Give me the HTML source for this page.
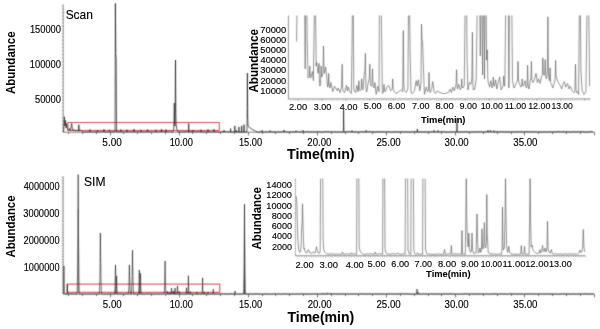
<!DOCTYPE html>
<html lang="en"><head><meta charset="utf-8"><title>Chromatogram Scan vs SIM</title>
<style>
html,body{margin:0;padding:0;background:#fff;}
body{width:600px;height:329px;overflow:hidden;}
svg{display:block;font-family:"Liberation Sans", sans-serif;}
</style></head>
<body>
<svg width="600" height="329" viewBox="0 0 600 329">
<rect x="0" y="0" width="600" height="329" fill="#ffffff"/>
<defs><filter id="soft" x="0" y="0" width="600" height="329" filterUnits="userSpaceOnUse"><feConvolveMatrix order="3" kernelMatrix="0.03 0.09 0.03 0.09 0.52 0.09 0.03 0.09 0.03" divisor="1" edgeMode="duplicate" preserveAlpha="false"/></filter></defs>
<g filter="url(#soft)">
<line x1="63.2" y1="4.5" x2="63.2" y2="132.2" stroke="#8c8c8c" stroke-width="1" />
<line x1="61.9" y1="131.5" x2="63.2" y2="131.5" stroke="#777" stroke-width="0.6" />
<line x1="61.9" y1="128.0" x2="63.2" y2="128.0" stroke="#777" stroke-width="0.6" />
<line x1="61.9" y1="124.5" x2="63.2" y2="124.5" stroke="#777" stroke-width="0.6" />
<line x1="61.9" y1="121.0" x2="63.2" y2="121.0" stroke="#777" stroke-width="0.6" />
<line x1="61.9" y1="117.5" x2="63.2" y2="117.5" stroke="#777" stroke-width="0.6" />
<line x1="61.9" y1="114.0" x2="63.2" y2="114.0" stroke="#777" stroke-width="0.6" />
<line x1="61.9" y1="110.5" x2="63.2" y2="110.5" stroke="#777" stroke-width="0.6" />
<line x1="61.9" y1="107.0" x2="63.2" y2="107.0" stroke="#777" stroke-width="0.6" />
<line x1="61.9" y1="103.5" x2="63.2" y2="103.5" stroke="#777" stroke-width="0.6" />
<line x1="61.9" y1="100.0" x2="63.2" y2="100.0" stroke="#777" stroke-width="0.6" />
<line x1="61.9" y1="96.5" x2="63.2" y2="96.5" stroke="#777" stroke-width="0.6" />
<line x1="61.9" y1="93.0" x2="63.2" y2="93.0" stroke="#777" stroke-width="0.6" />
<line x1="61.9" y1="89.5" x2="63.2" y2="89.5" stroke="#777" stroke-width="0.6" />
<line x1="61.9" y1="86.0" x2="63.2" y2="86.0" stroke="#777" stroke-width="0.6" />
<line x1="61.9" y1="82.5" x2="63.2" y2="82.5" stroke="#777" stroke-width="0.6" />
<line x1="61.9" y1="79.0" x2="63.2" y2="79.0" stroke="#777" stroke-width="0.6" />
<line x1="61.9" y1="75.5" x2="63.2" y2="75.5" stroke="#777" stroke-width="0.6" />
<line x1="61.9" y1="72.0" x2="63.2" y2="72.0" stroke="#777" stroke-width="0.6" />
<line x1="61.9" y1="68.5" x2="63.2" y2="68.5" stroke="#777" stroke-width="0.6" />
<line x1="61.9" y1="65.0" x2="63.2" y2="65.0" stroke="#777" stroke-width="0.6" />
<line x1="61.9" y1="61.5" x2="63.2" y2="61.5" stroke="#777" stroke-width="0.6" />
<line x1="61.9" y1="58.0" x2="63.2" y2="58.0" stroke="#777" stroke-width="0.6" />
<line x1="61.9" y1="54.5" x2="63.2" y2="54.5" stroke="#777" stroke-width="0.6" />
<line x1="61.9" y1="51.0" x2="63.2" y2="51.0" stroke="#777" stroke-width="0.6" />
<line x1="61.9" y1="47.5" x2="63.2" y2="47.5" stroke="#777" stroke-width="0.6" />
<line x1="61.9" y1="44.0" x2="63.2" y2="44.0" stroke="#777" stroke-width="0.6" />
<line x1="61.9" y1="40.5" x2="63.2" y2="40.5" stroke="#777" stroke-width="0.6" />
<line x1="61.9" y1="37.0" x2="63.2" y2="37.0" stroke="#777" stroke-width="0.6" />
<line x1="61.9" y1="33.5" x2="63.2" y2="33.5" stroke="#777" stroke-width="0.6" />
<line x1="61.9" y1="30.0" x2="63.2" y2="30.0" stroke="#777" stroke-width="0.6" />
<line x1="61.9" y1="26.5" x2="63.2" y2="26.5" stroke="#777" stroke-width="0.6" />
<line x1="61.9" y1="23.0" x2="63.2" y2="23.0" stroke="#777" stroke-width="0.6" />
<line x1="61.9" y1="19.5" x2="63.2" y2="19.5" stroke="#777" stroke-width="0.6" />
<line x1="61.9" y1="16.0" x2="63.2" y2="16.0" stroke="#777" stroke-width="0.6" />
<line x1="61.9" y1="12.5" x2="63.2" y2="12.5" stroke="#777" stroke-width="0.6" />
<line x1="61.9" y1="9.0" x2="63.2" y2="9.0" stroke="#777" stroke-width="0.6" />
<line x1="61.9" y1="5.5" x2="63.2" y2="5.5" stroke="#777" stroke-width="0.6" />
<line x1="63.2" y1="132.2" x2="594.4" y2="132.2" stroke="#5a5a5a" stroke-width="0.8" />
<line x1="68.5" y1="132.2" x2="68.5" y2="134.1" stroke="#555" stroke-width="0.8" />
<line x1="82.5" y1="132.2" x2="82.5" y2="134.1" stroke="#555" stroke-width="0.8" />
<line x1="96.5" y1="132.2" x2="96.5" y2="134.1" stroke="#555" stroke-width="0.8" />
<line x1="110.5" y1="132.2" x2="110.5" y2="135.39999999999998" stroke="#555" stroke-width="0.8" />
<line x1="123.5" y1="132.2" x2="123.5" y2="134.1" stroke="#555" stroke-width="0.8" />
<line x1="137.5" y1="132.2" x2="137.5" y2="134.1" stroke="#555" stroke-width="0.8" />
<line x1="151.5" y1="132.2" x2="151.5" y2="134.1" stroke="#555" stroke-width="0.8" />
<line x1="165.5" y1="132.2" x2="165.5" y2="134.1" stroke="#555" stroke-width="0.8" />
<line x1="179.5" y1="132.2" x2="179.5" y2="135.39999999999998" stroke="#555" stroke-width="0.8" />
<line x1="192.5" y1="132.2" x2="192.5" y2="134.1" stroke="#555" stroke-width="0.8" />
<line x1="206.5" y1="132.2" x2="206.5" y2="134.1" stroke="#555" stroke-width="0.8" />
<line x1="220.5" y1="132.2" x2="220.5" y2="134.1" stroke="#555" stroke-width="0.8" />
<line x1="234.5" y1="132.2" x2="234.5" y2="134.1" stroke="#555" stroke-width="0.8" />
<line x1="248.5" y1="132.2" x2="248.5" y2="135.39999999999998" stroke="#555" stroke-width="0.8" />
<line x1="262.5" y1="132.2" x2="262.5" y2="134.1" stroke="#555" stroke-width="0.8" />
<line x1="275.5" y1="132.2" x2="275.5" y2="134.1" stroke="#555" stroke-width="0.8" />
<line x1="289.5" y1="132.2" x2="289.5" y2="134.1" stroke="#555" stroke-width="0.8" />
<line x1="303.5" y1="132.2" x2="303.5" y2="134.1" stroke="#555" stroke-width="0.8" />
<line x1="317.5" y1="132.2" x2="317.5" y2="135.39999999999998" stroke="#555" stroke-width="0.8" />
<line x1="331.5" y1="132.2" x2="331.5" y2="134.1" stroke="#555" stroke-width="0.8" />
<line x1="345.5" y1="132.2" x2="345.5" y2="134.1" stroke="#555" stroke-width="0.8" />
<line x1="358.5" y1="132.2" x2="358.5" y2="134.1" stroke="#555" stroke-width="0.8" />
<line x1="372.5" y1="132.2" x2="372.5" y2="134.1" stroke="#555" stroke-width="0.8" />
<line x1="386.5" y1="132.2" x2="386.5" y2="135.39999999999998" stroke="#555" stroke-width="0.8" />
<line x1="400.5" y1="132.2" x2="400.5" y2="134.1" stroke="#555" stroke-width="0.8" />
<line x1="414.5" y1="132.2" x2="414.5" y2="134.1" stroke="#555" stroke-width="0.8" />
<line x1="428.5" y1="132.2" x2="428.5" y2="134.1" stroke="#555" stroke-width="0.8" />
<line x1="441.5" y1="132.2" x2="441.5" y2="134.1" stroke="#555" stroke-width="0.8" />
<line x1="455.5" y1="132.2" x2="455.5" y2="135.39999999999998" stroke="#555" stroke-width="0.8" />
<line x1="469.5" y1="132.2" x2="469.5" y2="134.1" stroke="#555" stroke-width="0.8" />
<line x1="483.5" y1="132.2" x2="483.5" y2="134.1" stroke="#555" stroke-width="0.8" />
<line x1="497.5" y1="132.2" x2="497.5" y2="134.1" stroke="#555" stroke-width="0.8" />
<line x1="511.5" y1="132.2" x2="511.5" y2="134.1" stroke="#555" stroke-width="0.8" />
<line x1="524.5" y1="132.2" x2="524.5" y2="135.39999999999998" stroke="#555" stroke-width="0.8" />
<line x1="538.5" y1="132.2" x2="538.5" y2="134.1" stroke="#555" stroke-width="0.8" />
<line x1="552.5" y1="132.2" x2="552.5" y2="134.1" stroke="#555" stroke-width="0.8" />
<line x1="566.5" y1="132.2" x2="566.5" y2="134.1" stroke="#555" stroke-width="0.8" />
<line x1="580.5" y1="132.2" x2="580.5" y2="134.1" stroke="#555" stroke-width="0.8" />
<line x1="594.5" y1="132.2" x2="594.5" y2="135.39999999999998" stroke="#555" stroke-width="0.8" />
<rect x="68" y="122.5" width="151.3" height="7.9" fill="none" stroke="#d4454f" stroke-width="0.95"/>
<polyline points="63.6,132.0 64.1,124.0 64.4,116.7 64.9,126.0 65.5,120.5 66.1,128.0 66.7,123.5 67.4,129.0 68.4,130.5 69.5,128.5 70.5,130.8 71.2,126.0 71.7,123.4 72.2,128.0 73.0,130.5 74.0,129.5 75.0,131.0 76.5,130.4 78.3,131.0 78.8,124.7 79.3,131.0 80.5,130.2 82.0,131.2 83.0,131.9 84.2,131.8 85.4,131.9 86.6,131.9 87.8,131.7 89.0,131.9 89.5,132.0 90.0,129.6 90.5,132.0 91.4,131.9 92.6,131.7 93.8,131.9 95.0,131.9 96.2,131.9 97.0,132.0 97.5,130.0 98.0,132.0 98.6,131.7 99.8,131.8 101.0,131.9 102.2,131.5 103.4,131.5 103.5,132.0 104.0,129.4 104.5,132.0 104.6,131.7 105.8,131.9 107.0,131.9 108.2,132.0 109.0,132.0 109.5,129.8 110.0,132.0 110.6,131.8 111.8,131.9 113.0,131.9 114.2,131.8 115.0,132.0 115.3,57.0 115.4,3.3 115.8,57.0 116.1,57.3 116.6,132.0 117.8,131.6 119.0,131.8 120.2,131.8 120.5,132.0 121.0,129.5 121.5,132.0 122.6,132.0 123.8,131.8 125.0,131.9 126.2,131.9 126.5,132.0 127.0,129.7 127.5,132.0 128.6,131.8 129.8,131.6 131.0,131.8 132.2,131.9 133.4,131.9 133.5,132.0 134.0,129.2 134.5,132.0 134.6,131.6 135.8,132.0 137.0,131.6 138.2,131.4 139.4,131.9 140.5,132.0 141.0,129.9 141.5,132.0 141.8,131.8 143.0,131.9 144.2,132.0 145.4,131.6 146.6,131.8 147.0,132.0 147.5,129.5 148.0,132.0 149.0,131.7 150.2,131.6 151.4,131.9 152.6,132.0 153.8,131.6 155.0,131.8 155.5,132.0 156.0,129.8 156.5,132.0 157.4,131.9 158.6,131.6 159.8,131.7 161.0,131.8 161.0,132.0 161.5,129.2 162.0,132.0 162.2,131.6 163.4,131.4 164.6,131.6 165.5,132.0 166.0,129.6 166.5,132.0 167.0,131.6 168.2,131.8 169.4,131.4 170.6,131.2 171.8,131.9 172.8,132.0 173.6,129.5 174.0,122.0 174.3,103.0 174.6,122.0 174.9,126.0 175.2,112.0 175.5,60.0 175.8,112.0 176.2,125.0 176.9,129.5 178.0,132.0 179.0,131.9 180.2,131.9 181.4,131.5 182.6,131.8 183.8,131.8 185.0,131.8 186.2,131.5 187.4,131.6 188.6,132.0 188.7,123.4 188.8,132.0 189.8,131.8 191.0,131.4 192.2,131.8 192.5,132.0 193.0,130.0 193.5,132.0 194.6,131.5 195.8,131.9 197.0,131.7 198.2,131.6 199.4,131.5 200.5,132.0 201.0,129.8 201.5,132.0 201.8,132.0 203.0,131.9 204.2,131.8 205.4,132.0 206.6,131.7 207.5,132.0 208.0,129.5 208.5,132.0 209.0,131.9 210.2,131.7 211.4,132.0 212.6,131.7 213.5,132.0 214.0,129.3 214.5,132.0 215.0,131.6 216.2,131.9 217.4,131.6 218.6,132.0 219.8,132.0 221.0,131.9 222.2,131.6 223.4,131.7 223.5,132.0 224.0,130.2 224.5,132.0 224.6,131.6 225.8,131.6 227.0,131.8 228.2,131.8 229.4,131.7 230.5,132.0 230.6,128.6 230.7,132.0 231.8,131.9 234.7,132.0 234.8,125.9 234.9,132.0 236.2,132.0 236.3,130.2 236.4,132.0 238.8,132.0 238.9,127.0 239.0,132.0 241.5,132.0 241.6,125.9 241.7,132.0 243.8,132.0 244.0,124.6 244.2,132.0 246.9,132.0 247.2,118.0 247.4,73.0 247.7,118.0 248.1,126.3 249.5,127.4 251.0,128.6 253.0,130.0 255.5,131.0 257.0,132.0 258.5,132.0 260.0,131.9 261.5,132.0 262.0,130.3 262.5,132.0 263.0,131.9 264.5,131.9 266.0,132.0 267.5,131.8 269.0,131.9 269.5,132.0 270.0,130.5 270.5,132.0 272.0,131.9 273.5,131.9 275.0,131.9 276.5,132.0 278.0,131.8 279.5,131.9 281.0,131.9 282.5,131.6 283.5,132.0 284.0,130.0 284.5,132.0 285.5,131.8 287.0,131.9 288.5,131.9 290.0,131.9 291.5,131.9 293.0,131.9 294.5,131.9 295.5,132.0 296.0,130.6 296.5,132.0 297.5,131.5 299.0,131.9 300.5,131.9 302.0,132.0 302.5,132.0 303.0,130.3 303.5,132.0 305.0,132.0 306.5,131.4 308.0,131.9 309.5,131.8 311.0,131.7 312.5,132.0 314.0,131.8 315.5,131.8 317.0,131.7 318.5,131.6 320.0,131.9 321.5,131.9 323.0,131.9 324.5,131.8 326.0,131.4 327.5,131.8 329.0,131.7 330.5,131.8 332.0,131.7 333.5,132.0 335.0,131.7 336.5,132.0 338.0,132.0 339.5,131.8 341.0,132.0 342.5,132.0 343.3,132.0 343.4,130.7 343.5,126.5 343.5,118.8 343.6,110.0 343.7,118.8 343.8,126.5 343.8,130.7 343.9,132.0 344.0,131.7 345.5,131.8 347.0,131.9 348.5,131.4 350.0,131.7 351.5,132.0 352.0,130.5 352.5,132.0 353.0,131.9 354.5,132.0 356.0,131.8 357.5,132.0 359.0,131.9 360.5,131.7 362.0,131.7 363.5,131.9 365.0,131.8 365.5,132.0 366.0,130.3 366.5,132.0 368.0,131.7 369.5,131.7 371.0,131.8 372.5,131.7 374.0,131.8 375.5,132.0 377.0,131.7 378.5,131.8 380.0,131.7 381.5,131.8 383.0,131.7 384.5,131.8 386.0,132.0 387.5,131.6 389.0,131.7 390.5,132.0 392.0,131.9 393.5,131.9 395.0,131.9 396.5,131.7 398.0,131.8 399.5,131.8 401.0,131.7 402.5,131.7 404.0,132.0 405.5,131.8 407.0,131.8 408.5,132.0 410.0,132.0 411.5,131.7 413.0,131.9 414.5,131.5 416.0,131.9 417.1,132.0 417.4,129.0 417.7,132.0 419.0,131.8 420.5,131.9 422.0,131.9 423.5,132.0 425.0,131.8 426.5,132.0 428.0,131.7 429.5,132.0 431.0,131.8 432.5,131.7 433.5,132.0 434.0,130.3 434.5,132.0 435.5,131.9 437.0,131.8 437.5,132.0 438.0,130.5 438.5,132.0 440.0,131.8 441.5,131.6 443.0,131.8 444.5,131.7 446.0,132.0 447.5,132.0 449.0,132.0 450.5,131.9 452.0,131.9 453.5,131.6 455.0,132.0 456.5,131.9 456.7,132.0 456.8,131.2 456.9,128.5 456.9,123.6 457.0,118.0 457.1,123.6 457.1,128.5 457.2,131.2 457.3,132.0 458.0,131.8 459.5,132.0 461.0,131.7 462.5,131.9 464.0,131.8 465.5,131.6 467.0,131.9 468.5,131.8 470.0,131.8 471.5,132.0 473.0,131.8 474.5,132.0 476.0,131.7 477.5,131.7 479.0,131.9 480.5,131.8 482.0,131.9 483.5,131.8 485.0,131.8 486.5,131.7 487.4,132.0 488.0,130.3 488.6,132.0 489.5,131.7 489.9,132.0 490.5,130.2 491.1,132.0 492.5,131.5 493.4,132.0 494.0,130.5 494.6,132.0 495.5,131.9 497.0,131.6 498.5,131.8 500.0,131.9 501.5,131.5 503.0,131.8 504.5,131.9 506.0,131.9 507.5,131.8 509.0,131.8 510.5,131.9 512.0,131.9 513.5,131.7 515.0,131.9 516.5,131.9 518.0,131.5 519.5,131.8 521.0,131.7 522.5,131.9 524.0,131.9 525.5,131.6 527.0,131.6 528.5,131.9 530.0,131.5 531.5,131.8 533.0,131.8 534.5,131.6 536.0,132.0 537.5,131.9 539.0,131.8 540.5,131.8 542.0,132.0 543.5,131.9 545.0,131.8 546.5,132.0 548.0,132.0 549.5,131.8 551.0,131.9 552.5,131.8 554.0,132.0 555.5,131.8 557.0,131.8 558.5,131.4 560.0,131.7 561.5,131.9 563.0,131.4 564.5,131.9 566.0,131.9 567.5,131.6 569.0,131.9 570.5,132.0 572.0,131.9 573.5,131.6 575.0,131.8 576.5,131.9 578.0,131.8 579.5,131.7 581.0,131.6 582.5,131.7 584.0,131.9 585.5,131.9 587.0,132.0 588.5,131.9 590.0,131.8 591.5,131.5 593.0,131.8" fill="none" stroke="#1a1a1a" stroke-width="0.72" stroke-linejoin="round" />
<line x1="288.4" y1="15.5" x2="288.4" y2="98.9" stroke="#888" stroke-width="0.9" />
<line x1="288.0" y1="98.9" x2="590.5" y2="98.9" stroke="#8a8a8a" stroke-width="0.9" />
<line x1="290.4" y1="99.80000000000001" x2="590.5" y2="99.80000000000001" stroke="#999" stroke-width="1.2" stroke-dasharray="0.7 1.69"/>
<line x1="298.0" y1="98.9" x2="298.0" y2="100.5" stroke="#777" stroke-width="0.7" />
<line x1="321.9" y1="98.9" x2="321.9" y2="100.5" stroke="#777" stroke-width="0.7" />
<line x1="345.8" y1="98.9" x2="345.8" y2="100.5" stroke="#777" stroke-width="0.7" />
<line x1="369.7" y1="98.9" x2="369.7" y2="100.5" stroke="#777" stroke-width="0.7" />
<line x1="393.6" y1="98.9" x2="393.6" y2="100.5" stroke="#777" stroke-width="0.7" />
<line x1="417.5" y1="98.9" x2="417.5" y2="100.5" stroke="#777" stroke-width="0.7" />
<line x1="441.4" y1="98.9" x2="441.4" y2="100.5" stroke="#777" stroke-width="0.7" />
<line x1="465.29999999999995" y1="98.9" x2="465.29999999999995" y2="100.5" stroke="#777" stroke-width="0.7" />
<line x1="489.2" y1="98.9" x2="489.2" y2="100.5" stroke="#777" stroke-width="0.7" />
<line x1="513.1" y1="98.9" x2="513.1" y2="100.5" stroke="#777" stroke-width="0.7" />
<line x1="537.0" y1="98.9" x2="537.0" y2="100.5" stroke="#777" stroke-width="0.7" />
<line x1="560.9" y1="98.9" x2="560.9" y2="100.5" stroke="#777" stroke-width="0.7" />
<line x1="584.8" y1="98.9" x2="584.8" y2="100.5" stroke="#777" stroke-width="0.7" />
<clipPath id="c1"><rect x="288" y="15.5" width="304" height="90"/></clipPath>
<g clip-path="url(#c1)">
<polyline points="296.6,41.5 297.3,-20.0 304.6,-20.0 305.2,68.8 305.6,-20.0 306.6,-20.0 307.2,40.0 308.0,78.0 309.3,76.6 309.8,66.0 310.3,76.6 310.7,78.0 312.5,71.5 313.4,80.7 314.8,-20.0 315.2,-20.0 316.2,66.0 316.6,62.3 318.0,73.3 318.5,72.1 319.0,63.3 319.5,83.5 319.9,86.2 320.6,83.8 321.1,66.0 321.7,77.0 323.0,73.3 323.5,46.0 324.0,70.0 324.4,73.3 325.7,67.0 327.6,87.1 328.2,85.4 328.7,73.3 329.2,86.2 330.0,88.0 330.9,82.5 332.7,91.7 334.5,86.2 337.3,90.8 338.2,88.0 340.0,92.6 341.5,87.1 342.2,64.2 342.7,87.6 343.0,90.8 344.6,92.6 346.5,85.3 347.4,90.8 348.3,87.1 349.6,91.7 351.4,93.5 352.8,-20.0 353.1,-20.0 353.8,89.9 355.6,92.6 356.9,85.3 358.0,91.7 358.4,90.4 358.9,80.7 359.4,89.6 360.2,90.8 361.2,89.4 361.7,78.9 362.2,88.6 363.0,89.9 364.3,73.3 364.9,70.9 365.4,53.4 365.9,87.4 366.7,92.0 368.5,80.7 369.3,78.7 369.8,64.2 370.3,83.6 371.2,86.2 372.0,84.1 372.5,68.8 373.0,85.7 374.0,88.0 374.9,82.5 376.2,94.4 377.7,86.2 379.0,91.7 379.6,-20.0 381.0,-20.0 381.6,35.0 382.3,93.5 383.5,92.4 384.0,84.4 384.5,90.8 385.5,91.7 386.8,87.1 388.7,85.3 390.5,90.8 392.2,89.4 392.7,78.9 393.2,89.4 393.8,90.8 396.0,93.5 398.8,91.7 400.6,89.9 402.4,91.7 402.8,84.4 403.3,30.5 403.8,83.6 404.4,90.8 406.1,92.6 407.9,89.0 408.7,-20.0 409.3,-20.0 410.1,50.7 411.0,92.6 412.5,93.5 414.4,90.8 416.2,80.7 417.3,86.2 418.4,79.8 419.9,90.8 421.0,82.8 421.5,24.0 422.0,39.4 422.6,41.5 423.3,64.0 424.4,94.4 426.3,87.1 427.6,91.7 428.5,89.4 429.0,72.4 429.5,90.2 430.3,92.6 431.8,88.0 432.7,81.6 434.2,91.7 435.5,93.5 437.3,90.8 440.0,92.6 442.8,93.5 445.6,93.5 448.3,92.6 450.1,89.0 451.4,92.6 452.9,87.1 454.4,90.8 455.6,86.2 456.1,84.2 456.6,69.7 457.1,86.7 457.5,89.0 458.8,84.4 460.2,89.9 461.2,88.6 461.7,78.9 462.2,86.9 463.0,88.0 464.3,85.3 465.3,-20.0 466.4,-20.0 467.1,60.0 467.9,89.9 469.4,82.5 470.9,84.4 471.9,78.1 472.4,32.3 472.9,83.0 473.2,89.9 474.9,89.0 476.2,78.9 477.6,-20.0 479.5,-20.0 480.3,56.0 481.2,-20.0 481.8,-20.0 482.6,75.0 483.4,-20.0 483.9,-20.0 484.5,78.9 485.3,-20.0 486.0,-20.0 486.6,60.0 487.3,49.8 487.8,78.6 488.3,82.5 489.6,87.1 490.9,80.7 492.0,88.0 492.8,86.7 493.3,77.0 493.8,85.1 494.5,86.2 495.6,79.8 496.9,89.0 498.2,82.5 499.7,77.0 501.1,89.9 502.4,87.1 503.2,85.8 503.7,76.1 504.2,85.0 504.8,86.2 506.0,-20.0 508.0,-20.0 508.9,88.0 509.7,-20.0 511.5,-20.0 512.5,80.7 514.0,88.0 515.3,85.3 516.6,82.5 517.5,80.0 518.0,61.4 518.5,80.0 519.1,82.5 520.8,87.1 521.7,86.1 522.2,78.9 522.7,85.3 523.5,86.2 525.0,80.7 526.3,88.0 527.1,85.3 527.6,65.1 528.1,86.1 529.0,89.0 530.3,80.7 530.9,78.4 531.4,61.4 531.9,80.0 533.1,82.5 534.5,78.9 536.0,73.3 537.3,82.5 538.6,78.9 540.0,83.4 541.5,77.0 542.3,74.7 542.8,57.8 543.3,73.1 544.1,75.2 544.7,73.3 545.2,59.6 545.7,76.6 546.5,78.9 547.4,71.4 547.9,16.8 548.4,73.0 549.2,80.7 549.6,79.2 550.1,67.8 550.6,82.4 551.4,84.4 552.9,88.0 554.4,82.5 555.1,79.9 555.6,60.5 556.1,76.7 556.9,78.9 558.4,82.5 560.2,85.3 561.7,89.0 563.0,84.4 564.4,81.6 565.7,87.1 567.6,83.4 569.0,89.0 570.3,86.2 572.2,90.8 573.6,92.6 574.9,91.7 575.5,64.2 576.0,89.2 576.4,92.6 577.7,91.7 578.6,94.4 579.6,-20.0 580.2,-20.0 580.9,70.0 582.2,90.8 584.1,94.4 585.9,91.7 587.4,-20.0 588.4,-20.0 589.6,86.2" fill="none" stroke="#606060" stroke-width="0.68" stroke-linejoin="round" />
</g>
<line x1="63.1" y1="176" x2="63.1" y2="294.2" stroke="#8c8c8c" stroke-width="1" />
<line x1="61.9" y1="292.28" x2="63.2" y2="292.28" stroke="#777" stroke-width="0.6" />
<line x1="61.9" y1="289.55999999999995" x2="63.2" y2="289.55999999999995" stroke="#777" stroke-width="0.6" />
<line x1="61.9" y1="286.8399999999999" x2="63.2" y2="286.8399999999999" stroke="#777" stroke-width="0.6" />
<line x1="61.9" y1="284.1199999999999" x2="63.2" y2="284.1199999999999" stroke="#777" stroke-width="0.6" />
<line x1="61.9" y1="281.39999999999986" x2="63.2" y2="281.39999999999986" stroke="#777" stroke-width="0.6" />
<line x1="61.9" y1="278.67999999999984" x2="63.2" y2="278.67999999999984" stroke="#777" stroke-width="0.6" />
<line x1="61.9" y1="275.9599999999998" x2="63.2" y2="275.9599999999998" stroke="#777" stroke-width="0.6" />
<line x1="61.9" y1="273.2399999999998" x2="63.2" y2="273.2399999999998" stroke="#777" stroke-width="0.6" />
<line x1="61.9" y1="270.51999999999975" x2="63.2" y2="270.51999999999975" stroke="#777" stroke-width="0.6" />
<line x1="61.9" y1="267.7999999999997" x2="63.2" y2="267.7999999999997" stroke="#777" stroke-width="0.6" />
<line x1="61.9" y1="265.0799999999997" x2="63.2" y2="265.0799999999997" stroke="#777" stroke-width="0.6" />
<line x1="61.9" y1="262.3599999999997" x2="63.2" y2="262.3599999999997" stroke="#777" stroke-width="0.6" />
<line x1="61.9" y1="259.63999999999965" x2="63.2" y2="259.63999999999965" stroke="#777" stroke-width="0.6" />
<line x1="61.9" y1="256.9199999999996" x2="63.2" y2="256.9199999999996" stroke="#777" stroke-width="0.6" />
<line x1="61.9" y1="254.19999999999962" x2="63.2" y2="254.19999999999962" stroke="#777" stroke-width="0.6" />
<line x1="61.9" y1="251.47999999999962" x2="63.2" y2="251.47999999999962" stroke="#777" stroke-width="0.6" />
<line x1="61.9" y1="248.75999999999962" x2="63.2" y2="248.75999999999962" stroke="#777" stroke-width="0.6" />
<line x1="61.9" y1="246.03999999999962" x2="63.2" y2="246.03999999999962" stroke="#777" stroke-width="0.6" />
<line x1="61.9" y1="243.31999999999962" x2="63.2" y2="243.31999999999962" stroke="#777" stroke-width="0.6" />
<line x1="61.9" y1="240.59999999999962" x2="63.2" y2="240.59999999999962" stroke="#777" stroke-width="0.6" />
<line x1="61.9" y1="237.87999999999963" x2="63.2" y2="237.87999999999963" stroke="#777" stroke-width="0.6" />
<line x1="61.9" y1="235.15999999999963" x2="63.2" y2="235.15999999999963" stroke="#777" stroke-width="0.6" />
<line x1="61.9" y1="232.43999999999963" x2="63.2" y2="232.43999999999963" stroke="#777" stroke-width="0.6" />
<line x1="61.9" y1="229.71999999999963" x2="63.2" y2="229.71999999999963" stroke="#777" stroke-width="0.6" />
<line x1="61.9" y1="226.99999999999963" x2="63.2" y2="226.99999999999963" stroke="#777" stroke-width="0.6" />
<line x1="61.9" y1="224.27999999999963" x2="63.2" y2="224.27999999999963" stroke="#777" stroke-width="0.6" />
<line x1="61.9" y1="221.55999999999963" x2="63.2" y2="221.55999999999963" stroke="#777" stroke-width="0.6" />
<line x1="61.9" y1="218.83999999999963" x2="63.2" y2="218.83999999999963" stroke="#777" stroke-width="0.6" />
<line x1="61.9" y1="216.11999999999964" x2="63.2" y2="216.11999999999964" stroke="#777" stroke-width="0.6" />
<line x1="61.9" y1="213.39999999999964" x2="63.2" y2="213.39999999999964" stroke="#777" stroke-width="0.6" />
<line x1="61.9" y1="210.67999999999964" x2="63.2" y2="210.67999999999964" stroke="#777" stroke-width="0.6" />
<line x1="61.9" y1="207.95999999999964" x2="63.2" y2="207.95999999999964" stroke="#777" stroke-width="0.6" />
<line x1="61.9" y1="205.23999999999964" x2="63.2" y2="205.23999999999964" stroke="#777" stroke-width="0.6" />
<line x1="61.9" y1="202.51999999999964" x2="63.2" y2="202.51999999999964" stroke="#777" stroke-width="0.6" />
<line x1="61.9" y1="199.79999999999964" x2="63.2" y2="199.79999999999964" stroke="#777" stroke-width="0.6" />
<line x1="61.9" y1="197.07999999999964" x2="63.2" y2="197.07999999999964" stroke="#777" stroke-width="0.6" />
<line x1="61.9" y1="194.35999999999964" x2="63.2" y2="194.35999999999964" stroke="#777" stroke-width="0.6" />
<line x1="61.9" y1="191.63999999999965" x2="63.2" y2="191.63999999999965" stroke="#777" stroke-width="0.6" />
<line x1="61.9" y1="188.91999999999965" x2="63.2" y2="188.91999999999965" stroke="#777" stroke-width="0.6" />
<line x1="61.9" y1="186.19999999999965" x2="63.2" y2="186.19999999999965" stroke="#777" stroke-width="0.6" />
<line x1="61.9" y1="183.47999999999965" x2="63.2" y2="183.47999999999965" stroke="#777" stroke-width="0.6" />
<line x1="61.9" y1="180.75999999999965" x2="63.2" y2="180.75999999999965" stroke="#777" stroke-width="0.6" />
<line x1="61.9" y1="178.03999999999965" x2="63.2" y2="178.03999999999965" stroke="#777" stroke-width="0.6" />
<line x1="63.1" y1="294.2" x2="594.4" y2="294.2" stroke="#5a5a5a" stroke-width="0.8" />
<line x1="68.5" y1="294.2" x2="68.5" y2="296.09999999999997" stroke="#555" stroke-width="0.8" />
<line x1="82.5" y1="294.2" x2="82.5" y2="296.09999999999997" stroke="#555" stroke-width="0.8" />
<line x1="96.5" y1="294.2" x2="96.5" y2="296.09999999999997" stroke="#555" stroke-width="0.8" />
<line x1="110.5" y1="294.2" x2="110.5" y2="297.4" stroke="#555" stroke-width="0.8" />
<line x1="123.5" y1="294.2" x2="123.5" y2="296.09999999999997" stroke="#555" stroke-width="0.8" />
<line x1="137.5" y1="294.2" x2="137.5" y2="296.09999999999997" stroke="#555" stroke-width="0.8" />
<line x1="151.5" y1="294.2" x2="151.5" y2="296.09999999999997" stroke="#555" stroke-width="0.8" />
<line x1="165.5" y1="294.2" x2="165.5" y2="296.09999999999997" stroke="#555" stroke-width="0.8" />
<line x1="179.5" y1="294.2" x2="179.5" y2="297.4" stroke="#555" stroke-width="0.8" />
<line x1="192.5" y1="294.2" x2="192.5" y2="296.09999999999997" stroke="#555" stroke-width="0.8" />
<line x1="206.5" y1="294.2" x2="206.5" y2="296.09999999999997" stroke="#555" stroke-width="0.8" />
<line x1="220.5" y1="294.2" x2="220.5" y2="296.09999999999997" stroke="#555" stroke-width="0.8" />
<line x1="234.5" y1="294.2" x2="234.5" y2="296.09999999999997" stroke="#555" stroke-width="0.8" />
<line x1="248.5" y1="294.2" x2="248.5" y2="297.4" stroke="#555" stroke-width="0.8" />
<line x1="262.5" y1="294.2" x2="262.5" y2="296.09999999999997" stroke="#555" stroke-width="0.8" />
<line x1="275.5" y1="294.2" x2="275.5" y2="296.09999999999997" stroke="#555" stroke-width="0.8" />
<line x1="289.5" y1="294.2" x2="289.5" y2="296.09999999999997" stroke="#555" stroke-width="0.8" />
<line x1="303.5" y1="294.2" x2="303.5" y2="296.09999999999997" stroke="#555" stroke-width="0.8" />
<line x1="317.5" y1="294.2" x2="317.5" y2="297.4" stroke="#555" stroke-width="0.8" />
<line x1="331.5" y1="294.2" x2="331.5" y2="296.09999999999997" stroke="#555" stroke-width="0.8" />
<line x1="345.5" y1="294.2" x2="345.5" y2="296.09999999999997" stroke="#555" stroke-width="0.8" />
<line x1="358.5" y1="294.2" x2="358.5" y2="296.09999999999997" stroke="#555" stroke-width="0.8" />
<line x1="372.5" y1="294.2" x2="372.5" y2="296.09999999999997" stroke="#555" stroke-width="0.8" />
<line x1="386.5" y1="294.2" x2="386.5" y2="297.4" stroke="#555" stroke-width="0.8" />
<line x1="400.5" y1="294.2" x2="400.5" y2="296.09999999999997" stroke="#555" stroke-width="0.8" />
<line x1="414.5" y1="294.2" x2="414.5" y2="296.09999999999997" stroke="#555" stroke-width="0.8" />
<line x1="428.5" y1="294.2" x2="428.5" y2="296.09999999999997" stroke="#555" stroke-width="0.8" />
<line x1="441.5" y1="294.2" x2="441.5" y2="296.09999999999997" stroke="#555" stroke-width="0.8" />
<line x1="455.5" y1="294.2" x2="455.5" y2="297.4" stroke="#555" stroke-width="0.8" />
<line x1="469.5" y1="294.2" x2="469.5" y2="296.09999999999997" stroke="#555" stroke-width="0.8" />
<line x1="483.5" y1="294.2" x2="483.5" y2="296.09999999999997" stroke="#555" stroke-width="0.8" />
<line x1="497.5" y1="294.2" x2="497.5" y2="296.09999999999997" stroke="#555" stroke-width="0.8" />
<line x1="511.5" y1="294.2" x2="511.5" y2="296.09999999999997" stroke="#555" stroke-width="0.8" />
<line x1="524.5" y1="294.2" x2="524.5" y2="297.4" stroke="#555" stroke-width="0.8" />
<line x1="538.5" y1="294.2" x2="538.5" y2="296.09999999999997" stroke="#555" stroke-width="0.8" />
<line x1="552.5" y1="294.2" x2="552.5" y2="296.09999999999997" stroke="#555" stroke-width="0.8" />
<line x1="566.5" y1="294.2" x2="566.5" y2="296.09999999999997" stroke="#555" stroke-width="0.8" />
<line x1="580.5" y1="294.2" x2="580.5" y2="296.09999999999997" stroke="#555" stroke-width="0.8" />
<line x1="594.5" y1="294.2" x2="594.5" y2="297.4" stroke="#555" stroke-width="0.8" />
<rect x="67.4" y="284.1" width="152.4" height="8.2" fill="none" stroke="#d23c4b" stroke-width="1.0"/>
<polyline points="63.6,294.0 63.9,265.8 64.3,293.0 65.0,294.0 66.0,293.8 66.9,294.0 67.3,284.0 67.7,294.0 69.0,293.7 70.5,293.8 72.0,293.6 73.5,293.8 75.0,293.8 76.5,293.9 77.1,294.0 77.3,286.8 77.7,264.2 78.0,222.4 78.2,174.7 78.4,222.4 78.8,264.2 79.1,286.8 79.3,294.0 79.5,293.9 81.0,294.0 82.5,293.9 84.0,293.9 85.5,294.0 87.0,293.9 88.5,293.9 90.0,293.9 91.5,294.0 93.0,293.9 94.5,293.8 96.0,294.0 97.5,293.8 99.0,293.9 99.3,294.0 99.5,290.3 99.9,278.8 100.2,257.4 100.4,233.0 100.6,257.4 101.0,278.8 101.3,290.3 101.5,294.0 102.0,294.0 103.5,294.0 105.0,294.0 106.5,294.0 108.0,294.0 109.5,293.7 111.0,293.9 112.5,293.8 114.0,293.9 114.5,294.0 114.7,292.3 115.0,286.7 115.3,276.5 115.5,264.9 115.7,276.5 115.9,294.0 116.0,292.9 116.2,289.4 116.4,283.1 116.6,275.8 116.8,283.1 116.9,289.4 117.2,292.9 117.3,294.0 118.5,293.8 120.0,293.6 121.5,294.0 123.0,293.8 124.5,293.9 126.0,293.8 127.5,293.5 128.4,294.0 128.6,292.3 128.9,286.7 129.2,276.5 129.4,264.9 129.6,276.5 129.9,286.7 130.2,292.3 130.4,294.0 130.5,293.7 131.4,294.0 131.6,291.4 131.9,283.1 132.3,267.7 132.5,250.2 132.7,267.7 133.1,283.1 133.4,291.4 133.6,294.0 135.0,293.8 136.5,293.9 138.0,293.9 138.5,294.0 138.7,292.6 138.9,288.0 139.1,279.6 139.3,270.0 139.5,279.6 139.7,288.0 139.8,294.0 139.9,292.8 140.2,288.9 140.3,281.6 140.5,273.4 140.7,281.6 140.8,288.9 141.1,292.8 141.2,294.0 142.5,293.9 144.0,294.0 145.5,293.9 147.0,293.7 148.5,293.8 150.0,293.8 151.5,293.8 153.0,294.0 154.5,293.9 156.0,293.9 157.5,293.8 159.0,293.9 160.5,293.8 162.0,294.0 163.5,293.5 164.0,294.0 164.3,292.0 164.6,285.8 164.9,274.2 165.1,261.0 165.3,274.2 165.6,285.8 165.9,292.0 166.2,294.0 166.5,294.0 167.1,294.0 167.5,291.5 167.9,294.0 168.0,294.0 169.1,294.0 169.5,292.0 169.9,294.0 171.0,293.9 171.1,294.0 171.5,288.0 171.9,294.0 172.5,293.8 172.9,294.0 173.3,291.0 173.7,294.0 174.0,293.8 174.6,294.0 175.0,288.0 175.4,294.0 175.5,294.0 177.0,293.8 177.1,294.0 177.5,285.8 177.9,294.0 178.5,294.0 179.1,294.0 179.5,291.5 179.9,294.0 180.0,293.9 181.5,293.8 183.0,293.8 184.5,294.0 186.0,293.8 186.1,294.0 186.5,287.8 186.9,294.0 187.5,293.9 187.9,294.0 188.0,292.9 188.2,289.4 188.3,283.0 188.4,275.7 188.5,283.0 188.7,289.4 188.8,292.9 188.9,294.0 189.0,294.0 190.1,294.0 190.5,291.5 190.9,294.0 192.0,294.0 193.5,293.9 195.0,293.8 196.5,293.9 196.6,294.0 197.0,292.0 197.4,294.0 198.0,294.0 199.5,293.7 201.0,293.9 202.1,294.0 202.2,293.0 202.3,289.9 202.5,284.3 202.6,277.8 202.7,284.3 202.8,289.9 203.0,293.0 203.1,294.0 204.0,293.9 204.1,294.0 204.5,292.0 204.9,294.0 205.5,293.9 207.0,293.9 207.6,294.0 208.0,292.0 208.4,294.0 208.5,294.0 210.0,294.0 211.5,293.7 212.8,294.0 213.3,289.2 213.8,294.0 214.5,293.9 216.0,293.8 217.5,293.8 219.0,294.0 220.5,293.6 222.0,293.8 223.5,293.8 225.0,293.6 226.5,294.0 228.0,293.9 229.5,293.6 231.0,293.6 232.5,293.8 234.0,293.9 234.5,294.0 235.0,291.0 235.5,294.0 237.0,294.0 238.5,294.0 240.0,293.9 241.5,293.9 243.0,293.7 243.5,294.0 243.7,288.6 244.0,271.6 244.3,240.1 244.5,204.2 244.7,240.1 245.0,271.6 245.3,288.6 245.5,294.0 246.0,293.7 247.5,293.9 249.0,293.8 250.5,293.8 252.0,294.0 253.5,294.0 255.0,293.9 256.5,293.7 258.0,293.8 259.5,294.0 261.0,294.0 262.5,293.9 264.0,294.0 265.5,293.8 267.0,293.9 268.5,293.9 270.0,294.0 271.5,293.9 273.0,294.0 274.5,293.5 276.0,293.8 277.5,294.0 279.0,293.7 280.5,294.0 282.0,294.0 283.5,293.7 285.0,293.9 286.5,293.9 288.0,293.9 289.5,293.9 291.0,294.0 292.5,293.8 294.0,294.0 295.5,294.0 297.0,293.9 298.5,293.9 300.0,293.9 301.5,293.7 303.0,293.9 304.5,293.9 306.0,293.8 307.5,294.0 309.0,293.9 310.5,294.0 312.0,293.9 313.5,293.9 315.0,293.5 316.5,293.9 318.0,293.8 319.5,294.0 321.0,293.8 322.5,294.0 323.0,293.0 323.5,294.0 324.0,293.8 325.5,294.0 326.5,294.0 327.0,292.8 327.5,294.0 328.5,293.5 330.0,293.9 330.5,294.0 331.0,293.0 331.5,294.0 333.0,293.8 334.5,293.8 336.0,293.9 337.5,294.0 339.0,293.9 340.5,293.8 342.0,293.8 343.5,293.8 345.0,294.0 346.5,293.6 348.0,294.0 349.5,294.0 351.0,293.8 352.5,294.0 354.0,293.8 355.5,293.9 357.0,293.9 358.5,293.9 360.0,293.8 361.5,293.6 363.0,293.7 364.5,294.0 366.0,293.9 367.5,293.9 369.0,293.7 370.5,293.9 372.0,293.9 373.5,293.9 375.0,293.9 376.5,293.9 378.0,293.7 379.5,294.0 381.0,293.9 382.5,293.8 384.0,294.0 385.5,293.9 387.0,293.7 388.5,293.8 390.0,293.9 391.5,293.5 393.0,294.0 394.5,293.8 396.0,293.9 397.5,294.0 399.0,293.7 400.5,293.6 402.0,293.7 403.5,293.8 405.0,293.7 406.5,293.7 408.0,293.8 409.5,293.9 411.0,294.0 412.5,293.9 414.0,294.0 415.5,293.8 416.5,294.0 417.0,289.0 417.5,294.0 417.9,294.0 418.5,292.3 419.1,294.0 420.0,294.0 421.5,293.9 423.0,293.9 424.5,294.0 426.0,293.8 427.5,294.0 429.0,293.9 430.5,293.7 432.0,293.8 433.5,294.0 435.0,293.9 436.5,293.9 438.0,293.8 439.5,293.9 441.0,293.9 442.5,293.9 444.0,293.9 445.5,293.6 447.0,293.9 448.5,294.0 450.0,293.4 451.5,293.6 453.0,293.9 454.5,294.0 456.0,294.0 457.5,293.9 459.0,294.0 460.5,293.9 462.0,294.0 463.5,293.8 465.0,293.6 466.5,293.8 468.0,294.0 469.5,293.8 471.0,293.8 472.5,293.9 474.0,293.9 475.5,293.9 477.0,293.9 478.5,293.9 480.0,293.9 481.5,294.0 483.0,293.7 484.5,294.0 486.0,293.9 487.5,293.9 489.0,294.0 490.5,293.9 492.0,293.8 493.5,293.9 495.0,293.6 496.5,293.9 498.0,294.0 499.5,294.0 501.0,293.7 502.5,293.9 504.0,293.8 505.5,293.9 507.0,294.0 508.5,294.0 510.0,293.6 511.5,293.7 513.0,293.8 514.5,293.7 516.0,293.9 517.5,294.0 519.0,293.9 520.5,293.9 522.0,293.7 523.5,294.0 525.0,293.7 526.5,293.9 528.0,293.8 529.5,293.7 531.0,293.8 532.5,293.9 534.0,293.7 535.5,293.9 537.0,294.0 538.5,293.6 540.0,293.9 541.5,293.9 543.0,293.9 544.5,293.9 546.0,293.8 547.5,293.8 549.0,293.9 550.5,294.0 552.0,293.7 553.5,294.0 555.0,293.9 556.5,293.9 558.0,294.0 559.5,294.0 561.0,293.9 562.5,293.8 564.0,293.7 565.5,293.9 567.0,293.8 568.5,293.8 570.0,294.0 571.5,293.9 573.0,293.7 574.5,293.9 576.0,294.0 577.5,294.0 579.0,293.7 580.5,294.0 582.0,293.9 583.5,293.9 585.0,293.8 586.5,293.6 588.0,294.0 589.5,293.9 591.0,293.9 592.5,293.8 594.0,293.9" fill="none" stroke="#1a1a1a" stroke-width="0.62" stroke-linejoin="round" />
<line x1="78.3" y1="209" x2="78.3" y2="292.0" stroke="#444" stroke-width="0.7" />
<line x1="244.5" y1="206" x2="244.5" y2="294.0" stroke="#333" stroke-width="0.9" />
<line x1="295.4" y1="178.5" x2="295.4" y2="255.7" stroke="#888" stroke-width="0.9" stroke-dasharray="1.6 0.5"/>
<line x1="295.0" y1="255.7" x2="585.5" y2="255.7" stroke="#8a8a8a" stroke-width="0.9" />
<line x1="296.9" y1="256.59999999999997" x2="585.5" y2="256.59999999999997" stroke="#999" stroke-width="1.2" stroke-dasharray="0.7 1.66"/>
<clipPath id="c2"><rect x="295" y="178.5" width="292" height="80"/></clipPath>
<g clip-path="url(#c2)">
<polyline points="296.3,196.3 296.8,203.0 297.3,222.0 297.9,240.0 298.6,249.0 299.6,252.6 300.6,251.5 301.2,244.0 301.7,226.0 302.1,223.3 302.5,203.8 303.1,226.0 303.5,241.0 303.9,249.0 304.4,248.2 304.9,251.0 305.8,252.8 307.2,252.6 307.8,250.6 308.4,249.7 309.0,251.0 310.0,253.0 312.2,253.3 312.9,252.3 313.4,251.7 313.9,252.6 315.0,253.0 315.8,250.5 316.5,246.7 317.2,250.8 318.2,253.0 319.6,253.2 320.2,250.0 320.7,150.0 322.6,150.0 323.1,240.0 323.7,249.0 324.7,252.0 326.7,253.8 328.0,254.1 329.7,254.1 331.4,253.8 333.1,254.1 334.8,254.3 336.5,254.0 338.2,254.2 339.9,254.2 341.6,254.3 342.5,252.0 343.4,254.3 344.0,254.1 345.7,254.2 347.4,253.7 349.1,254.1 350.4,254.3 351.3,252.8 352.2,254.3 353.0,253.5 354.7,254.1 356.6,254.3 357.0,150.0 358.7,150.0 359.2,246.0 360.0,251.5 362.5,253.8 364.0,254.3 365.7,254.2 367.4,253.9 369.1,253.9 370.8,253.6 372.5,254.1 374.1,254.3 375.0,252.0 375.9,254.3 376.5,254.0 378.2,254.1 379.9,253.4 381.6,254.2 382.6,254.3 383.0,150.0 384.5,150.0 385.0,249.0 386.0,253.0 387.5,254.2 389.2,254.0 390.9,254.2 392.6,253.7 394.3,253.9 396.0,254.2 397.7,253.1 399.4,254.0 401.1,254.2 402.8,254.0 404.5,253.5 405.1,254.3 405.6,150.0 407.5,150.0 408.0,250.0 409.0,253.5 410.8,254.3 411.3,150.0 413.3,150.0 413.8,250.0 414.8,253.5 415.5,254.3 416.6,254.3 417.5,252.8 418.4,254.3 419.0,254.2 420.7,254.1 422.6,254.3 423.0,150.0 425.0,150.0 425.5,249.0 426.5,253.3 428.0,254.0 429.7,254.1 431.4,254.1 433.1,254.3 434.8,254.3 436.5,254.2 438.2,254.0 439.9,254.1 441.6,254.3 443.3,254.1 443.6,254.3 444.5,249.5 445.4,254.3 446.0,254.2 447.7,253.9 449.4,253.8 450.4,254.3 450.9,253.2 451.3,245.5 451.8,253.2 452.2,254.3 453.0,254.1 454.7,254.0 456.4,253.9 458.1,254.2 459.8,253.8 461.4,254.3 462.0,230.5 462.6,254.3 464.0,254.0 465.3,254.3 465.8,218.0 466.3,178.3 466.8,218.0 467.4,240.0 468.0,247.0 468.4,245.3 468.8,233.0 469.5,249.0 470.5,252.5 471.4,251.0 472.0,233.0 472.7,251.0 473.8,253.5 476.0,253.0 476.5,235.0 477.0,213.8 477.6,240.0 478.2,253.0 479.4,252.0 480.0,248.0 480.6,252.5 481.4,250.0 482.0,228.8 482.7,249.0 483.4,248.0 483.9,244.9 484.3,222.5 485.0,247.0 485.8,248.0 486.4,241.6 486.8,194.5 487.2,234.5 487.6,240.0 488.2,252.0 489.5,253.8 491.0,253.7 492.7,254.2 494.4,254.0 496.1,254.2 497.8,254.2 499.5,253.8 501.5,254.3 502.1,248.6 502.5,207.0 502.9,244.8 503.3,250.0 504.4,248.0 505.0,218.0 505.5,178.3 506.0,218.0 506.6,245.0 507.5,252.5 508.2,251.0 508.8,246.3 509.5,252.5 511.0,253.8 512.5,254.0 514.2,254.3 515.9,254.2 517.6,254.2 519.3,254.3 520.4,254.3 520.8,253.2 521.3,245.5 521.8,253.2 522.2,254.3 523.0,253.5 523.6,254.3 524.0,253.3 524.5,246.3 525.0,253.3 525.4,254.3 526.5,254.1 528.2,254.2 529.1,254.3 529.6,218.0 530.1,178.3 530.6,218.0 531.2,247.0 532.0,245.0 532.8,249.5 534.0,251.5 535.5,253.0 537.5,253.5 539.3,253.0 540.0,249.5 540.7,253.0 541.8,251.5 542.5,245.5 543.2,251.0 544.2,251.5 545.0,248.0 545.8,252.0 546.8,250.0 547.0,246.6 547.5,221.3 548.0,246.6 548.2,250.0 549.2,252.5 550.5,252.8 551.3,249.5 552.2,253.3 553.5,254.3 555.2,253.6 556.9,254.2 558.6,254.1 560.3,253.8 562.0,254.2 563.7,254.3 565.4,253.7 567.1,254.2 568.8,254.0 570.5,253.7 572.2,254.3 573.9,253.9 575.6,254.1 577.3,254.2 579.3,252.5 580.0,250.0 580.8,252.5 582.0,251.5 582.7,246.0 583.3,229.5 583.9,246.0 584.5,251.0 585.0,252.0" fill="none" stroke="#606060" stroke-width="0.68" stroke-linejoin="round" />
</g>
</g>
<g>
<text x="29.88" y="33.25" font-size="10.3" font-weight="normal" textLength="31.11" lengthAdjust="spacingAndGlyphs" fill="#000" stroke="#000" stroke-width="0.14">150000</text>
<text x="29.78" y="68.4" font-size="10.3" font-weight="normal" textLength="31.21" lengthAdjust="spacingAndGlyphs" fill="#000" stroke="#000" stroke-width="0.14">100000</text>
<text x="34.97" y="103.2" font-size="10.3" font-weight="normal" textLength="26.02" lengthAdjust="spacingAndGlyphs" fill="#000" stroke="#000" stroke-width="0.14">50000</text>
<text x="102.37" y="145.6" font-size="10.3" font-weight="normal" textLength="19.37" lengthAdjust="spacingAndGlyphs" fill="#000" stroke="#000" stroke-width="0.14">5.00</text>
<text x="169.68" y="145.6" font-size="10.3" font-weight="normal" textLength="23.26" lengthAdjust="spacingAndGlyphs" fill="#000" stroke="#000" stroke-width="0.14">10.00</text>
<text x="238.88" y="145.6" font-size="10.3" font-weight="normal" textLength="23.26" lengthAdjust="spacingAndGlyphs" fill="#000" stroke="#000" stroke-width="0.14">15.00</text>
<text x="307.30" y="145.6" font-size="10.3" font-weight="normal" textLength="24.13" lengthAdjust="spacingAndGlyphs" fill="#000" stroke="#000" stroke-width="0.14">20.00</text>
<text x="376.40" y="145.6" font-size="10.3" font-weight="normal" textLength="24.33" lengthAdjust="spacingAndGlyphs" fill="#000" stroke="#000" stroke-width="0.14">25.00</text>
<text x="444.57" y="145.6" font-size="10.3" font-weight="normal" textLength="24.17" lengthAdjust="spacingAndGlyphs" fill="#000" stroke="#000" stroke-width="0.14">30.00</text>
<text x="513.27" y="145.6" font-size="10.3" font-weight="normal" textLength="24.17" lengthAdjust="spacingAndGlyphs" fill="#000" stroke="#000" stroke-width="0.14">35.00</text>
<text x="65.64" y="19.0" font-size="12.4" font-weight="normal" textLength="27.26" lengthAdjust="spacingAndGlyphs" fill="#000" stroke="#000" stroke-width="0.14">Scan</text>
<text transform="translate(14.9,94.0) rotate(-90)" font-size="12.8" font-weight="bold" textLength="62.58" lengthAdjust="spacingAndGlyphs" fill="#000">Abundance</text>
<text x="287.01" y="159.0" font-size="14.5" font-weight="bold" textLength="67.57" lengthAdjust="spacingAndGlyphs" fill="#000" stroke="#000" stroke-width="0.05">Time(min)</text>
<text x="260.25" y="32.5" font-size="9.7" font-weight="normal" textLength="26.05" lengthAdjust="spacingAndGlyphs" fill="#000" stroke="#000" stroke-width="0.14">70000</text>
<text x="260.34" y="42.730000000000004" font-size="9.7" font-weight="normal" textLength="25.97" lengthAdjust="spacingAndGlyphs" fill="#000" stroke="#000" stroke-width="0.14">60000</text>
<text x="260.29" y="52.96" font-size="9.7" font-weight="normal" textLength="26.01" lengthAdjust="spacingAndGlyphs" fill="#000" stroke="#000" stroke-width="0.14">50000</text>
<text x="260.57" y="63.19" font-size="9.7" font-weight="normal" textLength="25.73" lengthAdjust="spacingAndGlyphs" fill="#000" stroke="#000" stroke-width="0.14">40000</text>
<text x="260.29" y="73.42" font-size="9.7" font-weight="normal" textLength="26.01" lengthAdjust="spacingAndGlyphs" fill="#000" stroke="#000" stroke-width="0.14">30000</text>
<text x="260.42" y="83.65" font-size="9.7" font-weight="normal" textLength="25.89" lengthAdjust="spacingAndGlyphs" fill="#000" stroke="#000" stroke-width="0.14">20000</text>
<text x="260.24" y="93.88" font-size="9.7" font-weight="normal" textLength="26.06" lengthAdjust="spacingAndGlyphs" fill="#000" stroke="#000" stroke-width="0.14">10000</text>
<text x="288.92" y="109.6" font-size="9.7" font-weight="normal" textLength="18.19" lengthAdjust="spacingAndGlyphs" fill="#000" stroke="#000" stroke-width="0.14">2.00</text>
<text x="313.79" y="109.6" font-size="9.7" font-weight="normal" textLength="17.41" lengthAdjust="spacingAndGlyphs" fill="#000" stroke="#000" stroke-width="0.14">3.00</text>
<text x="339.87" y="109.6" font-size="9.7" font-weight="normal" textLength="17.53" lengthAdjust="spacingAndGlyphs" fill="#000" stroke="#000" stroke-width="0.14">4.00</text>
<text x="363.79" y="109.1" font-size="9.7" font-weight="normal" textLength="17.91" lengthAdjust="spacingAndGlyphs" fill="#000" stroke="#000" stroke-width="0.14">5.00</text>
<text x="387.64" y="109.3" font-size="9.7" font-weight="normal" textLength="17.77" lengthAdjust="spacingAndGlyphs" fill="#000" stroke="#000" stroke-width="0.14">6.00</text>
<text x="412.05" y="109.3" font-size="9.7" font-weight="normal" textLength="17.55" lengthAdjust="spacingAndGlyphs" fill="#000" stroke="#000" stroke-width="0.14">7.00</text>
<text x="435.40" y="109.3" font-size="9.7" font-weight="normal" textLength="18.31" lengthAdjust="spacingAndGlyphs" fill="#000" stroke="#000" stroke-width="0.14">8.00</text>
<text x="459.60" y="109.3" font-size="9.7" font-weight="normal" textLength="17.51" lengthAdjust="spacingAndGlyphs" fill="#000" stroke="#000" stroke-width="0.14">9.00</text>
<text x="480.64" y="109.3" font-size="9.7" font-weight="normal" textLength="22.26" lengthAdjust="spacingAndGlyphs" fill="#000" stroke="#000" stroke-width="0.14">10.00</text>
<text x="504.74" y="109.3" font-size="9.7" font-weight="normal" textLength="21.46" lengthAdjust="spacingAndGlyphs" fill="#000" stroke="#000" stroke-width="0.14">11.00</text>
<text x="528.14" y="109.3" font-size="9.7" font-weight="normal" textLength="22.26" lengthAdjust="spacingAndGlyphs" fill="#000" stroke="#000" stroke-width="0.14">12.00</text>
<text x="551.44" y="109.3" font-size="9.7" font-weight="normal" textLength="21.46" lengthAdjust="spacingAndGlyphs" fill="#000" stroke="#000" stroke-width="0.14">13.00</text>
<text x="420.91" y="122.6" font-size="9.6" font-weight="bold" textLength="44.58" lengthAdjust="spacingAndGlyphs" fill="#000" stroke="#000" stroke-width="0.05">Time(min)</text>
<text transform="translate(257.8,92.6) rotate(-90)" font-size="12.7" font-weight="bold" textLength="63.58" lengthAdjust="spacingAndGlyphs" fill="#000">Abundance</text>
<text x="23.67" y="189.8" font-size="10.3" font-weight="normal" textLength="35.87" lengthAdjust="spacingAndGlyphs" fill="#000" stroke="#000" stroke-width="0.14">4000000</text>
<text x="23.37" y="217.0" font-size="10.3" font-weight="normal" textLength="36.17" lengthAdjust="spacingAndGlyphs" fill="#000" stroke="#000" stroke-width="0.14">3000000</text>
<text x="23.50" y="244.0" font-size="10.3" font-weight="normal" textLength="36.03" lengthAdjust="spacingAndGlyphs" fill="#000" stroke="#000" stroke-width="0.14">2000000</text>
<text x="23.78" y="271.3" font-size="10.3" font-weight="normal" textLength="35.76" lengthAdjust="spacingAndGlyphs" fill="#000" stroke="#000" stroke-width="0.14">1000000</text>
<text x="102.87" y="307.9" font-size="10.3" font-weight="normal" textLength="18.87" lengthAdjust="spacingAndGlyphs" fill="#000" stroke="#000" stroke-width="0.14">5.00</text>
<text x="169.68" y="307.9" font-size="10.3" font-weight="normal" textLength="23.26" lengthAdjust="spacingAndGlyphs" fill="#000" stroke="#000" stroke-width="0.14">10.00</text>
<text x="238.88" y="307.9" font-size="10.3" font-weight="normal" textLength="23.26" lengthAdjust="spacingAndGlyphs" fill="#000" stroke="#000" stroke-width="0.14">15.00</text>
<text x="307.70" y="307.9" font-size="10.3" font-weight="normal" textLength="24.03" lengthAdjust="spacingAndGlyphs" fill="#000" stroke="#000" stroke-width="0.14">20.00</text>
<text x="376.40" y="307.9" font-size="10.3" font-weight="normal" textLength="24.33" lengthAdjust="spacingAndGlyphs" fill="#000" stroke="#000" stroke-width="0.14">25.00</text>
<text x="444.57" y="307.9" font-size="10.3" font-weight="normal" textLength="24.17" lengthAdjust="spacingAndGlyphs" fill="#000" stroke="#000" stroke-width="0.14">30.00</text>
<text x="513.27" y="307.9" font-size="10.3" font-weight="normal" textLength="24.17" lengthAdjust="spacingAndGlyphs" fill="#000" stroke="#000" stroke-width="0.14">35.00</text>
<text x="84.04" y="186.4" font-size="12.5" font-weight="normal" textLength="21.48" lengthAdjust="spacingAndGlyphs" fill="#000" stroke="#000" stroke-width="0.14">SIM</text>
<text transform="translate(14.85,257.6) rotate(-90)" font-size="12.7" font-weight="bold" textLength="62.18" lengthAdjust="spacingAndGlyphs" fill="#000">Abundance</text>
<text x="287.41" y="322.3" font-size="14.5" font-weight="bold" textLength="66.87" lengthAdjust="spacingAndGlyphs" fill="#000" stroke="#000" stroke-width="0.05">Time(min)</text>
<text x="266.24" y="188.2" font-size="9.7" font-weight="normal" textLength="25.76" lengthAdjust="spacingAndGlyphs" fill="#000" stroke="#000" stroke-width="0.14">14000</text>
<text x="266.24" y="198.42999999999998" font-size="9.7" font-weight="normal" textLength="25.76" lengthAdjust="spacingAndGlyphs" fill="#000" stroke="#000" stroke-width="0.14">12000</text>
<text x="266.24" y="208.66" font-size="9.7" font-weight="normal" textLength="25.76" lengthAdjust="spacingAndGlyphs" fill="#000" stroke="#000" stroke-width="0.14">10000</text>
<text x="271.80" y="218.89" font-size="9.7" font-weight="normal" textLength="20.21" lengthAdjust="spacingAndGlyphs" fill="#000" stroke="#000" stroke-width="0.14">8000</text>
<text x="271.84" y="229.12" font-size="9.7" font-weight="normal" textLength="20.17" lengthAdjust="spacingAndGlyphs" fill="#000" stroke="#000" stroke-width="0.14">6000</text>
<text x="272.07" y="239.35" font-size="9.7" font-weight="normal" textLength="19.93" lengthAdjust="spacingAndGlyphs" fill="#000" stroke="#000" stroke-width="0.14">4000</text>
<text x="271.92" y="249.57999999999998" font-size="9.7" font-weight="normal" textLength="20.09" lengthAdjust="spacingAndGlyphs" fill="#000" stroke="#000" stroke-width="0.14">2000</text>
<text x="295.52" y="268.1" font-size="9.7" font-weight="normal" textLength="18.19" lengthAdjust="spacingAndGlyphs" fill="#000" stroke="#000" stroke-width="0.14">2.00</text>
<text x="319.59" y="268.1" font-size="9.7" font-weight="normal" textLength="18.31" lengthAdjust="spacingAndGlyphs" fill="#000" stroke="#000" stroke-width="0.14">3.00</text>
<text x="345.67" y="268.1" font-size="9.7" font-weight="normal" textLength="18.03" lengthAdjust="spacingAndGlyphs" fill="#000" stroke="#000" stroke-width="0.14">4.00</text>
<text x="367.59" y="267.2" font-size="9.7" font-weight="normal" textLength="18.11" lengthAdjust="spacingAndGlyphs" fill="#000" stroke="#000" stroke-width="0.14">5.00</text>
<text x="391.34" y="267.4" font-size="9.7" font-weight="normal" textLength="17.87" lengthAdjust="spacingAndGlyphs" fill="#000" stroke="#000" stroke-width="0.14">6.00</text>
<text x="414.55" y="267.4" font-size="9.7" font-weight="normal" textLength="17.55" lengthAdjust="spacingAndGlyphs" fill="#000" stroke="#000" stroke-width="0.14">7.00</text>
<text x="437.90" y="267.4" font-size="9.7" font-weight="normal" textLength="18.31" lengthAdjust="spacingAndGlyphs" fill="#000" stroke="#000" stroke-width="0.14">8.00</text>
<text x="460.90" y="267.4" font-size="9.7" font-weight="normal" textLength="17.81" lengthAdjust="spacingAndGlyphs" fill="#000" stroke="#000" stroke-width="0.14">9.00</text>
<text x="480.64" y="267.4" font-size="9.7" font-weight="normal" textLength="21.46" lengthAdjust="spacingAndGlyphs" fill="#000" stroke="#000" stroke-width="0.14">10.00</text>
<text x="502.54" y="267.4" font-size="9.7" font-weight="normal" textLength="22.86" lengthAdjust="spacingAndGlyphs" fill="#000" stroke="#000" stroke-width="0.14">11.00</text>
<text x="525.14" y="267.4" font-size="9.7" font-weight="normal" textLength="23.56" lengthAdjust="spacingAndGlyphs" fill="#000" stroke="#000" stroke-width="0.14">12.00</text>
<text x="548.94" y="267.4" font-size="9.7" font-weight="normal" textLength="22.76" lengthAdjust="spacingAndGlyphs" fill="#000" stroke="#000" stroke-width="0.14">13.00</text>
<text x="426.11" y="276.7" font-size="9.6" font-weight="bold" textLength="44.38" lengthAdjust="spacingAndGlyphs" fill="#000" stroke="#000" stroke-width="0.05">Time(min)</text>
<text transform="translate(261.1,249.6) rotate(-90)" font-size="12.5" font-weight="bold" textLength="62.47" lengthAdjust="spacingAndGlyphs" fill="#000">Abundance</text>
</g>
</svg>
</body></html>
